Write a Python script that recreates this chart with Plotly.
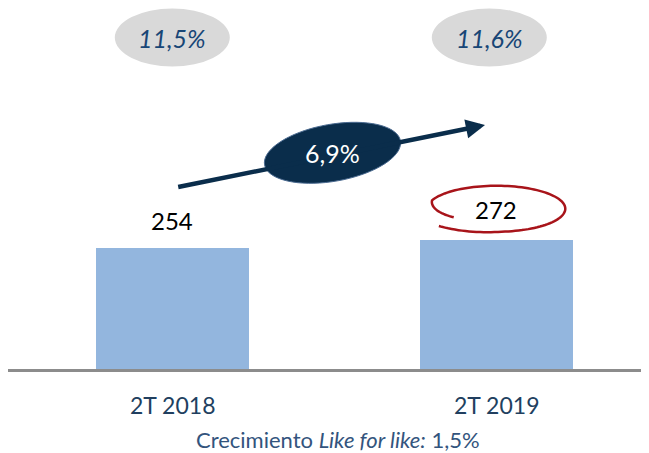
import math
import plotly.graph_objects as go

# ---- data ----
categories = ["2T 2018", "2T 2019"]
values = [254, 272]
margin_labels = ["11,5%", "11,6%"]
growth_label = "6,9%"
caption_parts = ["Crecimiento ", "Like for like:", " 1,5%"]

# ---- style ----
FONT = "Lato, 'Open Sans', sans-serif"
BAR_COLOR = "#93B6DE"
NAVY = "#0A2D4B"
LABEL_COLOR = "#213F5F"
CAPTION_COLOR = "#33547D"
PCT_COLOR = "#184676"
RED = "#A8141A"

OFF = 8  # page body margin offset
W, H = 657, 453
ML, MR, MT, MB = 0, 0, 0, 92
PH = H - MT - MB
YMAX = 759.7
PPU_X = 324.0
XR = [-0.5071, -0.5071 + (W - ML - MR) / PPU_X]
ppu_x = PPU_X
ppu_y = PH / YMAX


def paper_y(win_y):
    return 1 - (win_y - OFF - MT) / PH


def data_x(win_x):
    return XR[0] + (win_x - OFF - ML) / ppu_x


def data_y(win_y):
    return (MT + PH - (win_y - OFF)) / ppu_y


xs = list(range(len(categories)))

fig = go.Figure()
fig.add_trace(go.Bar(
    x=xs, y=values, width=0.471,
    marker=dict(color=BAR_COLOR, line=dict(width=0)),
    hoverinfo="skip",
))

annotations = []
shapes = []

# category labels & value labels
val_shift = [28, 30]
for i, (c, v) in enumerate(zip(categories, values)):
    annotations.append(dict(x=i, y=0, xref="x", yref="y", text=c, showarrow=False,
                            yanchor="middle", yshift=-36,
                            font=dict(family=FONT, size=23, color=LABEL_COLOR)))
    annotations.append(dict(x=i, y=v, xref="x", yref="y", text=str(v), showarrow=False,
                            yanchor="middle", yshift=val_shift[i],
                            font=dict(family=FONT, size=24, color="#000000")))

# margin ellipses (grey) at top
pct_xshift = [0, -7]
pct_y = paper_y(37.5)
for i, lab in enumerate(margin_labels):
    shapes.append(dict(type="circle", xref="x", yref="paper",
                       xsizemode="pixel", ysizemode="pixel",
                       xanchor=i, yanchor=pct_y,
                       x0=pct_xshift[i] - 57.5, x1=pct_xshift[i] + 57.5, y0=-29, y1=29,
                       fillcolor="#D9D9D9", line=dict(width=0), layer="below"))
    annotations.append(dict(x=i, y=pct_y, xref="x", yref="paper",
                            text="<i>%s</i>" % lab, showarrow=False,
                            xshift=pct_xshift[i], yanchor="middle",
                            font=dict(family=FONT, size=25, color=PCT_COLOR)))

# growth arrow
tip_px = (485, 125)
tail_px = (176.7, 187.3)
annotations.append(dict(x=data_x(tip_px[0]), y=data_y(tip_px[1]), xref="x", yref="y", text="",
                        showarrow=True, arrowhead=2, arrowsize=0.85, arrowwidth=4.5,
                        arrowcolor=NAVY, ax=tail_px[0] - tip_px[0], ay=tail_px[1] - tip_px[1],
                        standoff=0, startstandoff=0))

# rotated growth ellipse
g_y = paper_y(152.8)
g_dx = 332.5 - (OFF + ML + (0.5 - XR[0]) * ppu_x)
rx, ry, tilt = 69, 28.5, math.radians(10)
pts = []
for k in range(73):
    t = 2 * math.pi * k / 72
    px = rx * math.cos(t)
    py = ry * math.sin(t)
    pts.append((px * math.cos(tilt) - py * math.sin(tilt) + g_dx,
                px * math.sin(tilt) + py * math.cos(tilt)))
path = "M " + " L ".join("%.2f,%.2f" % p for p in pts) + " Z"
shapes.append(dict(type="path", xref="x", yref="paper", xsizemode="pixel", ysizemode="pixel",
                   xanchor=0.5, yanchor=g_y, path=path,
                   fillcolor=NAVY, line=dict(color="#4A6A90", width=1)))
annotations.append(dict(x=0.5, y=g_y, xref="x", yref="paper", text=growth_label,
                        showarrow=False, xshift=g_dx, yanchor="middle",
                        font=dict(family=FONT, size=25, color="#FFFFFF")))

# red hand-drawn oval around second value
ocx, ocy, orx, ory = 0, 31, 69, 23
opts = []
start, end = math.radians(211), math.radians(-138)
n = 120
for k in range(n + 1):
    th = start + (end - start) * k / n
    f = k / n
    if f < 0.15:
        r = 0.72 + 0.28 * (f / 0.15)
    elif f > 0.85:
        r = 1.0 + 0.12 * ((f - 0.85) / 0.15)
    else:
        r = 1.0
    opts.append((ocx + r * orx * math.cos(th), ocy + r * ory * math.sin(th)))
opath = "M " + " L ".join("%.2f,%.2f" % p for p in opts)
shapes.append(dict(type="path", xref="x", yref="y", xsizemode="pixel", ysizemode="pixel",
                   xanchor=1, yanchor=values[1], path=opath,
                   line=dict(color=RED, width=2.5)))

# caption
cap = caption_parts[0] + "<i>" + caption_parts[1] + "</i>" + caption_parts[2]
annotations.append(dict(x=(337.5 - OFF - ML) / (W - ML - MR), y=paper_y(440),
                        xref="paper", yref="paper", text=cap, showarrow=False,
                        xanchor="center", yanchor="middle",
                        font=dict(family=FONT, size=22, color=CAPTION_COLOR)))

fig.update_layout(
    width=W, height=H,
    margin=dict(l=ML, r=MR, t=MT, b=MB, pad=0),
    paper_bgcolor="white", plot_bgcolor="white",
    showlegend=False,
    xaxis=dict(range=XR, showgrid=False, zeroline=False, showticklabels=False,
               showline=True, linecolor="#8C8C8C", linewidth=2.5, ticks=""),
    yaxis=dict(range=[0, YMAX], visible=False),
    shapes=shapes, annotations=annotations,
    bargap=0,
)

fig.write_html("out.html", config={"displayModeBar": False})
